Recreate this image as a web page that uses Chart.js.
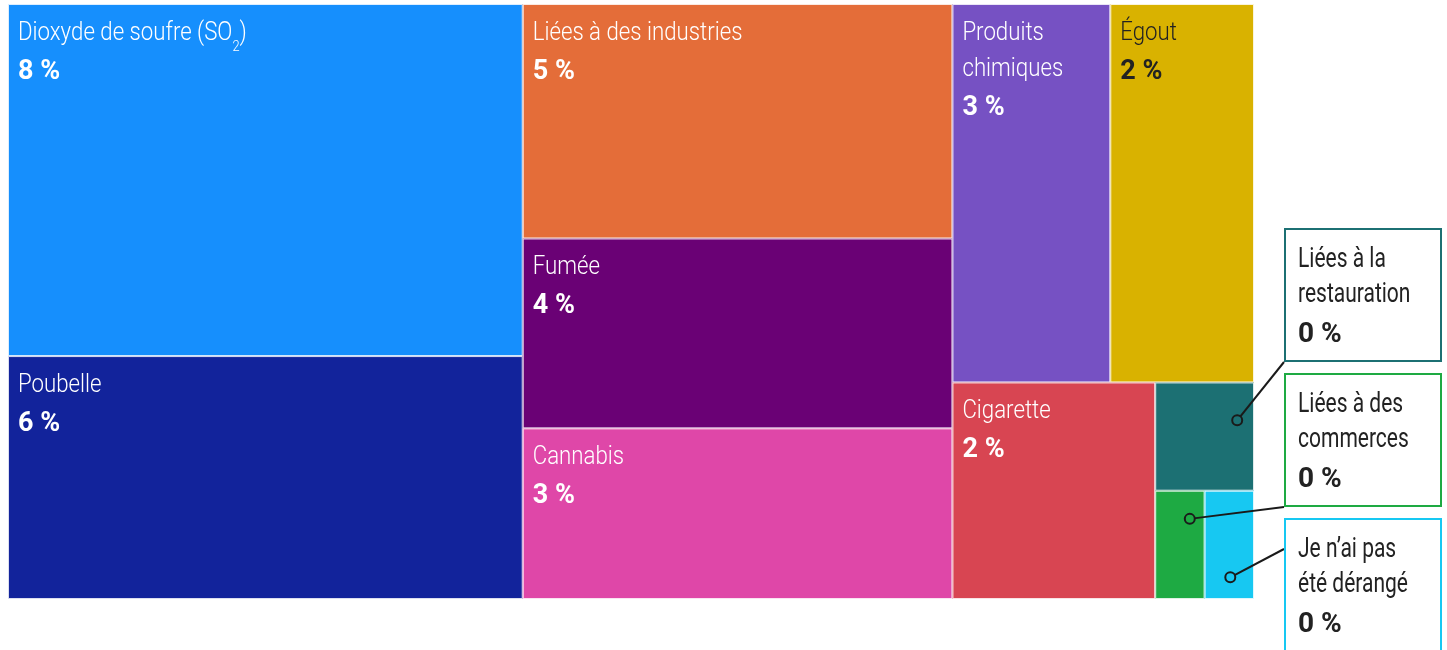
<!DOCTYPE html>
<html>
<head>
<meta charset="utf-8">
<script src="https://cdn.jsdelivr.net/npm/chart.js@4.4.0/dist/chart.umd.min.js"></script>
<style>
  html, body { margin: 0; padding: 0; background: #fff; overflow: hidden; }
  canvas { display: block; }
</style>
</head>
<body>
<canvas id="treemap" width="1447" height="650"></canvas>
<script>
// données (part des répondants, %)
const categories = [
  'Dioxyde de soufre (SO₂)', 'Poubelle', 'Liées à des industries', 'Fumée', 'Cannabis',
  'Produits chimiques', 'Égout', 'Cigarette', 'Liées à la restauration',
  'Liées à des commerces', 'Je n’ai pas été dérangé'
];
const values = [8.13, 5.61, 4.52, 3.66, 3.29, 2.68, 2.44, 1.97, 0.48, 0.24, 0.24];
const colors = [
  '#168ffd', '#12239b', '#e46d39', '#6a0175', '#df47a8',
  '#7651c3', '#d9b200', '#d84552', '#1c7073', '#1eaa43', '#17c8f2'
];
// position du point d'ancrage des bulles (fraction de la cellule)
const calloutDots = [[0.83, 0.35], [0.7, 0.26], [0.52, 0.8]];
const calloutAnchor = ['bottom', 'bottom', 'text'];

const FONT = 'Roboto, "Noto Sans", sans-serif';
const CELL_SQ = 0.855;
const BOX_SQ = 0.75;

function pct(v) { return Math.round(v) + ' %'; }

// squarify (même règle que d3, ratio doré)
function squarify(vals, x0, y0, x1, y1, ratio) {
  const rects = [];
  let value = vals.reduce((a, b) => a + b, 0);
  let i0 = 0, i1 = 0;
  const n = vals.length;
  while (i0 < n) {
    const dx = x1 - x0, dy = y1 - y0;
    let sum = vals[i1++];
    let minV = sum, maxV = sum;
    const alpha = Math.max(dy / dx, dx / dy) / (value * ratio);
    let beta = sum * sum * alpha;
    let minRatio = Math.max(maxV / beta, beta / minV);
    for (; i1 < n; ++i1) {
      const v = vals[i1];
      sum += v;
      if (v < minV) minV = v;
      if (v > maxV) maxV = v;
      beta = sum * sum * alpha;
      const r = Math.max(maxV / beta, beta / minV);
      if (r > minRatio) { sum -= v; break; }
      minRatio = r;
    }
    if (dx < dy) {
      const yy = y0 + dy * sum / value;
      let xx = x0;
      for (let i = i0; i < i1; i++) {
        const w = dx * vals[i] / sum;
        rects[i] = { x: xx, y: y0, w: w, h: yy - y0 };
        xx += w;
      }
      y0 = yy;
    } else {
      const xx = x0 + dx * sum / value;
      let yy = y0;
      for (let i = i0; i < i1; i++) {
        const h = dy * vals[i] / sum;
        rects[i] = { x: x0, y: yy, w: xx - x0, h: h };
        yy += h;
      }
      x0 = xx;
    }
    value -= sum;
    i0 = i1;
  }
  return rects;
}

function isLight(hex) {
  const r = parseInt(hex.slice(1, 3), 16), g = parseInt(hex.slice(3, 5), 16), b = parseInt(hex.slice(5, 7), 16);
  return (0.299 * r + 0.587 * g + 0.114 * b) > 165;
}

function wrap(ctx, text, maxW, sq) {
  const words = text.split(' ');
  const lines = [];
  let cur = '';
  words.forEach(w => {
    const test = cur ? cur + ' ' + w : w;
    if (cur && ctx.measureText(test).width * sq > maxW) { lines.push(cur); cur = w; }
    else cur = test;
  });
  if (cur) lines.push(cur);
  return lines;
}

function drawSqueezed(ctx, t, x, y, sq) {
  ctx.save();
  ctx.translate(x, y);
  ctx.scale(sq, 1);
  // indice (SO₂)
  if (t.indexOf('₂') >= 0) {
    const parts = t.split('₂');
    const base = ctx.font;
    ctx.fillText(parts[0], 0, 0);
    let xx = ctx.measureText(parts[0]).width;
    ctx.font = '300 15px ' + FONT;
    ctx.fillText('2', xx, 11);
    xx += ctx.measureText('2').width;
    ctx.font = base;
    ctx.fillText(parts[1], xx, 0);
  } else {
    ctx.fillText(t, 0, 0);
  }
  ctx.restore();
}

const treemapPlugin = {
  id: 'treemapCells',
  beforeDatasetsDraw(chart) {
    const { ctx, scales: { x, y } } = chart;
    const left = x.getPixelForValue(0), right = x.getPixelForValue(1);
    const top = y.getPixelForValue(0), bottom = y.getPixelForValue(1);
    const rects = squarify(values, left, top, right, bottom, (1 + Math.sqrt(5)) / 2);
    const small = [];

    ctx.save();
    rects.forEach((r, i) => {
      ctx.fillStyle = colors[i];
      ctx.fillRect(r.x, r.y, r.w, r.h);
      ctx.strokeStyle = 'rgba(255,255,255,0.85)';
      ctx.lineWidth = 1;
      ctx.strokeRect(r.x + 0.5, r.y + 0.5, r.w - 1, r.h - 1);
    });

    ctx.textBaseline = 'alphabetic';
    rects.forEach((r, i) => {
      if (r.w < 120 || r.h < 120) { small.push(i); return; }
      const pad = 10;
      ctx.fillStyle = isLight(colors[i]) ? '#222222' : '#ffffff';
      ctx.font = '300 26px ' + FONT;
      const lines = wrap(ctx, categories[i], r.w - 2 * pad, CELL_SQ);
      let by = r.y + 35.5;
      lines.forEach((l, k) => {
        drawSqueezed(ctx, l, r.x + pad, by, CELL_SQ);
        if (k < lines.length - 1) by += 36;
      });
      ctx.font = 'bold 27px ' + FONT;
      ctx.fillText(pct(values[i]), r.x + pad, by + 39.5);
    });

    // bulles pour les petites cellules
    const boxW = 158, boxH = 134, gap = 11;
    const boxX = right + 30;
    const lastTop = bottom - 81;
    small.forEach((i, k) => {
      const r = rects[i];
      const bt = lastTop - (small.length - 1 - k) * (boxH + gap);
      const dot = calloutDots[k];
      const cx = r.x + r.w * dot[0], cy = r.y + r.h * dot[1];
      const ay = calloutAnchor[k] === 'bottom' ? bt + boxH : bt + 31;

      ctx.strokeStyle = '#1a1a1a';
      ctx.lineWidth = 2;
      ctx.beginPath();
      ctx.moveTo(cx, cy);
      ctx.lineTo(boxX, ay);
      ctx.stroke();
      ctx.beginPath();
      ctx.arc(cx, cy, 5, 0, Math.PI * 2);
      ctx.fillStyle = colors[i];
      ctx.fill();
      ctx.stroke();

      ctx.fillStyle = '#ffffff';
      ctx.fillRect(boxX, bt, boxW, boxH);
      ctx.strokeStyle = colors[i];
      ctx.lineWidth = 2;
      ctx.strokeRect(boxX + 1, bt + 1, boxW - 2, boxH - 2);

      ctx.fillStyle = '#222222';
      ctx.font = '28px ' + FONT;
      const lines = wrap(ctx, categories[i], boxW - 32, BOX_SQ);
      let by = bt + 39;
      lines.forEach((l, k2) => {
        drawSqueezed(ctx, l, boxX + 14, by, BOX_SQ);
        if (k2 < lines.length - 1) by += 34.5;
      });
      ctx.font = 'bold 28px ' + FONT;
      ctx.fillText(pct(values[i]), boxX + 14, by + 40);
    });
    ctx.restore();
  }
};

new Chart(document.getElementById('treemap'), {
  type: 'scatter',
  data: { datasets: [{ data: [] }] },
  options: {
    responsive: false,
    animation: false,
    devicePixelRatio: 1,
    layout: { padding: { left: 8, top: 4, right: 193, bottom: 51 } },
    plugins: { legend: { display: false }, tooltip: { enabled: false } },
    scales: {
      x: { type: 'linear', min: 0, max: 1, display: false },
      y: { type: 'linear', min: 0, max: 1, reverse: true, display: false }
    }
  },
  plugins: [treemapPlugin]
});
</script>
</body>
</html>
